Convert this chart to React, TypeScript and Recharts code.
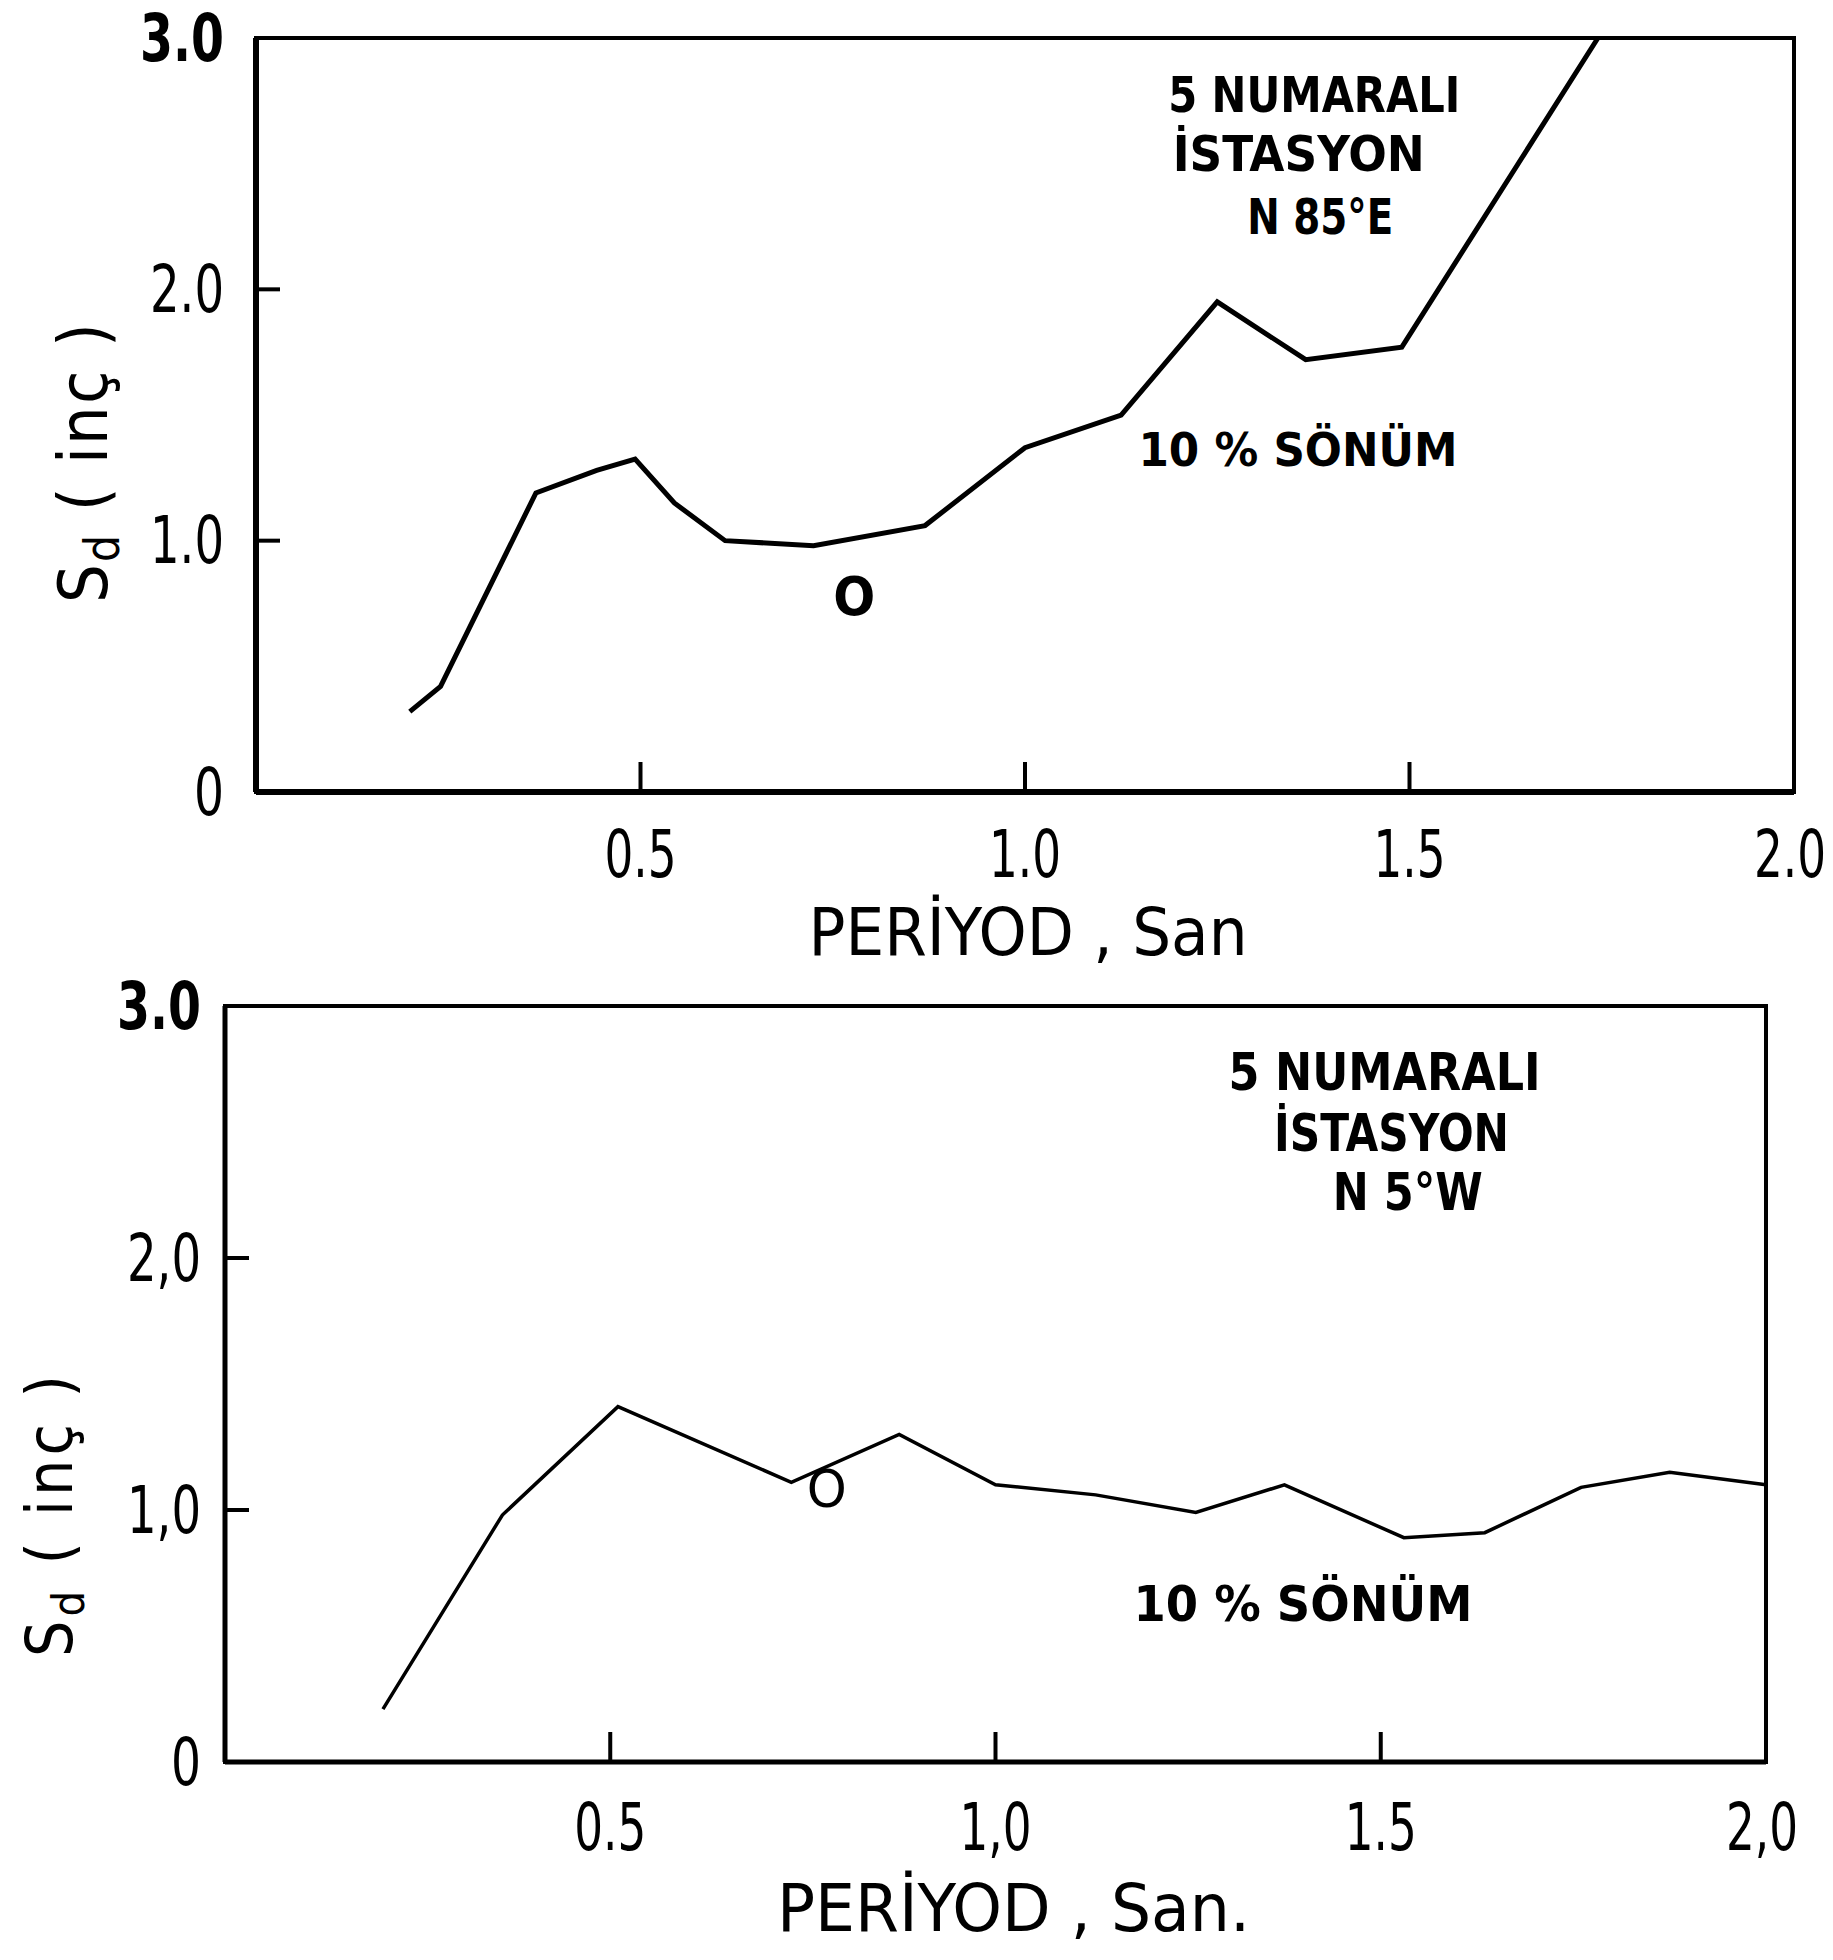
import { LineChart, Line, XAxis, YAxis, ReferenceArea, ReferenceDot } from 'recharts';

// Sd (inç), period in seconds
const topPeriod = [0.2, 0.24, 0.364, 0.443, 0.493, 0.544, 0.61, 0.725, 0.87, 1.0, 1.125, 1.25, 1.365, 1.49, 1.745];
const topSd = [0.32, 0.42, 1.19, 1.28, 1.325, 1.15, 1.0, 0.98, 1.06, 1.37, 1.5, 1.95, 1.72, 1.77, 3.0];

const bottomPeriod = [0.205, 0.36, 0.51, 0.735, 0.875, 1.0, 1.13, 1.26, 1.375, 1.53, 1.635, 1.76, 1.875, 2.0];
const bottomSd = [0.21, 0.98, 1.41, 1.11, 1.3, 1.1, 1.06, 0.99, 1.1, 0.89, 0.91, 1.09, 1.15, 1.1];

const xTicks = [0.5, 1, 1.5, 2];
const yTicks = [0, 1, 2, 3];
const topXLabels = ['0.5', '1.0', '1.5', '2.0'];
const topYLabels = ['0', '1.0', '2.0', '3.0'];
const bottomXLabels = ['0.5', '1,0', '1.5', '2,0'];
const bottomYLabels = ['0', '1,0', '2,0', '3.0'];

const topNotes = ['5 NUMARALI', 'İSTASYON', 'N 85°E', '10 % SÖNÜM'];
const bottomNotes = ['5 NUMARALI', 'İSTASYON', 'N 5°W', '10 % SÖNÜM'];

const FONT = '"DejaVu Sans Condensed", "DejaVu Sans", sans-serif';

// narrow plotter-like lettering: squeeze text to the width measured on the scan
const labelWidth = (s: string, bold: boolean) => (s.length === 1 ? 30 : bold ? 84 : 74);

const noteShape = (text: string, size: number, width: number, weight: any = 'bold') => (p: any) => (
  <text
    x={p.cx}
    y={p.cy}
    textAnchor="middle"
    dominantBaseline="central"
    fontFamily={FONT}
    fontSize={size}
    fontWeight={weight}
    textLength={width}
    lengthAdjust="spacingAndGlyphs"
    fill="#000"
  >
    {text}
  </text>
);

const yTick = (labels: string[], gap: number) => (p: any) => {
  const v = p.payload.value;
  const ax = p.x + gap;
  const s = labels[yTicks.indexOf(v)];
  const bold = v === 3;
  return (
    <g>
      {v > 0 && v < 3 && <line x1={ax} x2={ax + 24} y1={p.y} y2={p.y} stroke="#000" strokeWidth={4} />}
      <text
        x={p.x}
        y={p.y}
        textAnchor="end"
        dominantBaseline="central"
        fontFamily={FONT}
        fontSize={65}
        fontWeight={bold ? 'bold' : 'normal'}
        textLength={labelWidth(s, bold)}
        lengthAdjust="spacingAndGlyphs"
        fill="#000"
      >
        {s}
      </text>
    </g>
  );
};

const xTick = (labels: string[], drop: number) => (p: any) => {
  const v = p.payload.value;
  const s = labels[xTicks.indexOf(v)];
  return (
    <g>
      {v < 2 && <line x1={p.x} x2={p.x} y1={p.y} y2={p.y - 30} stroke="#000" strokeWidth={4} />}
      <text
        x={v === 2 ? p.x - 4 : p.x}
        y={p.y + drop}
        textAnchor="middle"
        fontFamily={FONT}
        fontSize={65}
        textLength={72}
        lengthAdjust="spacingAndGlyphs"
        fill="#000"
      >
        {s}
      </text>
    </g>
  );
};

const xTitle = (text: string, dx: number, dy: number, width: number) => (p: any) => {
  const vb = p.viewBox;
  return (
    <text
      x={vb.x + vb.width / 2 + dx}
      y={vb.y + dy}
      textAnchor="middle"
      fontFamily={FONT}
      fontSize={65}
      textLength={width}
      lengthAdjust="spacingAndGlyphs"
      fill="#000"
    >
      {text}
    </text>
  );
};

const yTitle = (bx: number, cy: number, size: number, len: number) => () => (
  <text
    x={bx}
    y={cy}
    transform={`rotate(-90, ${bx}, ${cy})`}
    textAnchor="middle"
    fontFamily={FONT}
    fontSize={size}
    textLength={len}
    lengthAdjust="spacing"
    fill="#000"
  >
    <tspan>S</tspan>
    <tspan fontSize={size * 0.7} dy={12}>d</tspan>
    <tspan dy={-12}>{'  (  inç  )'}</tspan>
  </text>
);

const topData = topPeriod.map((t, i) => ({ t, sd: topSd[i] }));
const bottomData = bottomPeriod.map((t, i) => ({ t, sd: bottomSd[i] }));

export default function App() {
  return (
    <div style={{ position: 'absolute', left: 0, top: 0, width: 1833, height: 1960, background: '#fff' }}>
      <div style={{ position: 'absolute', left: 0, top: 0 }}>
        <LineChart width={1833} height={990} data={topData} margin={{ top: 38, right: 39, left: 0, bottom: 0 }}>
          <ReferenceArea x1={0} x2={2} y1={0} y2={3} fill="none" stroke="#000" strokeWidth={4} />
          <XAxis
            type="number"
            dataKey="t"
            domain={[0, 2]}
            ticks={xTicks}
            height={198}
            tickSize={0}
            tickMargin={0}
            tickLine={false}
            axisLine={{ stroke: '#000', strokeWidth: 6 }}
            tick={xTick(topXLabels, 85)}
            interval={0}
            label={{ content: xTitle('PERİYOD , San', 3, 163, 439) }}
          />
          <YAxis
            type="number"
            domain={[0, 3]}
            ticks={yTicks}
            width={256}
            tickSize={0}
            tickMargin={32}
            tickLine={false}
            axisLine={{ stroke: '#000', strokeWidth: 6 }}
            tick={yTick(topYLabels, 32)}
            interval={0}
            label={{ content: yTitle(107, 463, 68, 280) }}
          />
          <Line type="linear" dataKey="sd" stroke="#000" strokeWidth={5} dot={false} isAnimationActive={false} />
          <ReferenceDot x={1.376} y={2.774} r={0} shape={noteShape(topNotes[0], 50, 292)} />
          <ReferenceDot x={1.356} y={2.539} r={0} shape={noteShape(topNotes[1], 50, 252)} />
          <ReferenceDot x={1.384} y={2.288} r={0} shape={noteShape(topNotes[2], 50, 146)} />
          <ReferenceDot x={1.355} y={1.361} r={0} shape={noteShape(topNotes[3], 46, 319)} />
          <ReferenceDot x={0.778} y={0.776} r={0} shape={noteShape('O', 54, 42)} />
        </LineChart>
      </div>
      <div style={{ position: 'absolute', left: 0, top: 940 }}>
        <LineChart width={1833} height={1020} data={bottomData} margin={{ top: 66, right: 67, left: 0, bottom: 0 }}>
          <ReferenceArea x1={0} x2={2} y1={0} y2={3} fill="none" stroke="#000" strokeWidth={4} />
          <XAxis
            type="number"
            dataKey="t"
            domain={[0, 2]}
            ticks={xTicks}
            height={198}
            tickSize={0}
            tickMargin={0}
            tickLine={false}
            axisLine={{ stroke: '#000', strokeWidth: 5 }}
            tick={xTick(bottomXLabels, 88)}
            interval={0}
            label={{ content: xTitle('PERİYOD ,  San.', 18, 169, 473) }}
          />
          <YAxis
            type="number"
            domain={[0, 3]}
            ticks={yTicks}
            width={225}
            tickSize={0}
            tickMargin={24}
            tickLine={false}
            axisLine={{ stroke: '#000', strokeWidth: 5 }}
            tick={yTick(bottomYLabels, 24)}
            interval={0}
            label={{ content: yTitle(72, 576, 64, 282) }}
          />
          <Line type="linear" dataKey="sd" stroke="#000" strokeWidth={3.5} dot={false} isAnimationActive={false} />
          <ReferenceDot x={1.505} y={2.738} r={0} shape={noteShape(bottomNotes[0], 52, 312)} />
          <ReferenceDot x={1.514} y={2.496} r={0} shape={noteShape(bottomNotes[1], 52, 235)} />
          <ReferenceDot x={1.535} y={2.262} r={0} shape={noteShape(bottomNotes[2], 52, 150)} />
          <ReferenceDot x={1.399} y={0.627} r={0} shape={noteShape(bottomNotes[3], 50, 339)} />
          <ReferenceDot x={0.781} y={1.083} r={0} shape={noteShape('O', 52, 40, 'normal')} />
        </LineChart>
      </div>
    </div>
  );
}
